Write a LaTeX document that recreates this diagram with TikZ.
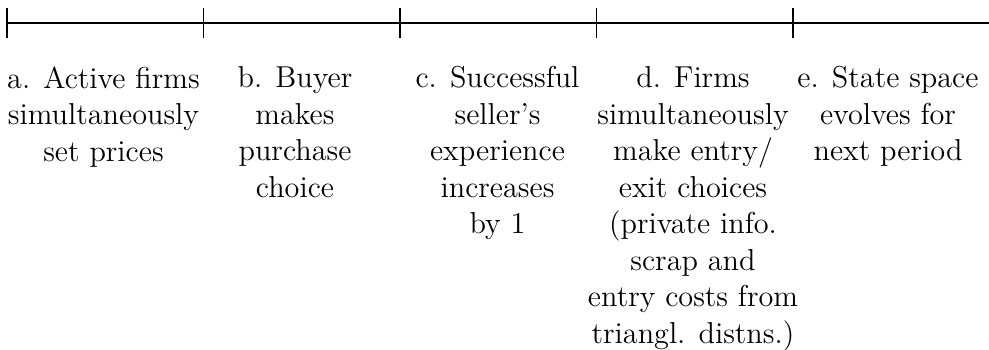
\documentclass[tikz,border=0pt]{standalone}
\usepackage{fontspec}
\begin{document}
\begin{tikzpicture}[x=0.3968pt,y=-0.3968pt,
  axis/.style={line width=0.8pt},
  tickmark/.style={line width=0.5pt},
  stage/.style={anchor=north,inner sep=0pt,align=center,font=\fontsize{12}{14.5}\selectfont}]
\useasboundingbox (0,0) rectangle (989,349);
\coordinate (t1) at (7,23);
\coordinate (t2) at (203.5,23);
\coordinate (t3) at (400,23);
\coordinate (t4) at (596.5,23);
\coordinate (t5) at (793,23);
\coordinate (tend) at (989,23);
\draw[axis] (t1) -- (tend);
\foreach \t in {t1,t2,t3,t4,t5}
  \draw[tickmark] ([yshift=15*0.3968pt]\t) -- ([yshift=-15*0.3968pt]\t);
\node[stage] (la) at (103.5,66) {a. Active firms\\simultaneously\\set prices};
\node[stage] (lb) at (295,66) {b. Buyer\\makes\\purchase\\choice};
\node[stage] (lc) at (497.5,66) {c. Successful\\seller's\\experience\\increases\\by 1};
\node[stage] (ld) at (693,66) {d. Firms\\simultaneously\\make entry/\\exit choices\\(private info.\\scrap and\\entry costs from\\triangl. distns.)};
\node[stage] (le) at (888,66) {e. State space\\evolves for\\next period};
\end{tikzpicture}
\end{document}
